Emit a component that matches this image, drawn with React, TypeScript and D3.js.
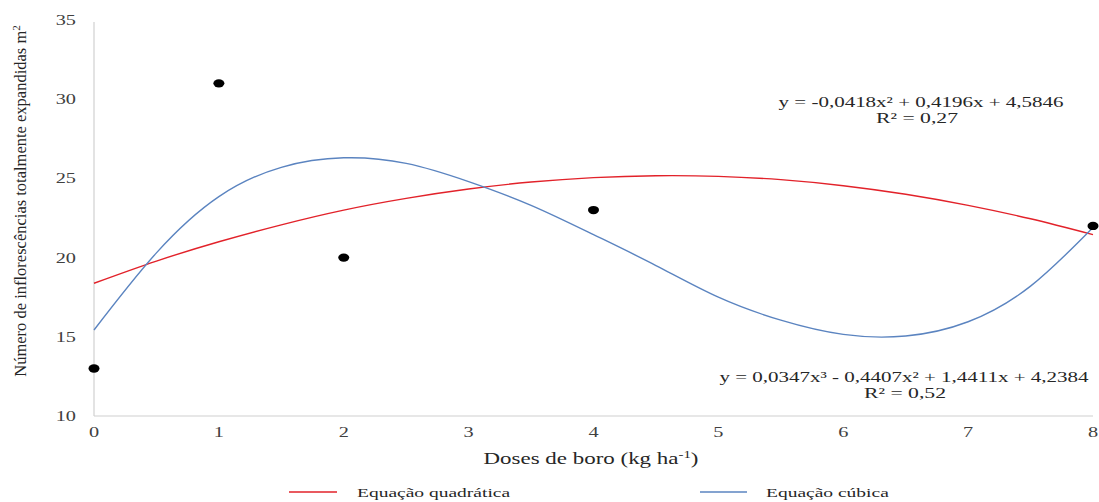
import React from "react";
import * as d3 from "d3";

const doses = [0, 1, 2, 4, 8];
const observed = [13, 31, 20, 23, 22];

const curveX = [0, 0.5, 1, 1.5, 2, 2.5, 3, 3.5, 4, 4.5, 5, 5.5, 6, 6.5, 7, 7.5, 8];
const quadratic = [18.38, 19.78, 21.0, 22.07, 23.0, 23.74, 24.33, 24.77, 25.05, 25.17, 25.13, 24.92, 24.54, 24.0, 23.3, 22.45, 21.45];
const cubic = [15.43, 20.3, 23.85, 25.7, 26.3, 25.95, 24.8, 23.3, 21.45, 19.5, 17.5, 16.05, 15.15, 15.05, 15.95, 18.2, 21.9];

const xTicks = [0, 1, 2, 3, 4, 5, 6, 7, 8];
const yTicks = [10, 15, 20, 25, 30, 35];

const FONT = "'Liberation Serif', 'DejaVu Serif', serif";
const RED = "#e2222a";
const BLUE = "#5b84c0";

type STProps = {
  x: number;
  y: number;
  sx: number;
  anchor?: "start" | "middle" | "end";
  size: number;
  fill?: string;
  children: React.ReactNode;
};

function SText({ x, y, sx, anchor = "start", size, fill = "#262626", children }: STProps) {
  return (
    <g transform={`translate(${x},${y}) scale(${sx},1)`}>
      <text x={0} y={0} dy="0.35em" textAnchor={anchor} fontSize={size} fill={fill}>
        {children}
      </text>
    </g>
  );
}

export default function App() {
  const x = d3.scaleLinear().domain([0, 8]).range([94, 1093]);
  const y = d3.scaleLinear().domain([10, 35]).range([416, 20]);

  const line = d3
    .line<[number, number]>()
    .x((d) => x(d[0]))
    .y((d) => y(d[1]))
    .curve(d3.curveNatural);

  const quadPath = line(curveX.map((v, i) => [v, quadratic[i]]) as [number, number][]) || "";
  const cubPath = line(curveX.map((v, i) => [v, cubic[i]]) as [number, number][]) || "";

  return (
    <div style={{ position: "absolute", left: 0, top: 0 }}>
      <svg width={1099} height={502} style={{ display: "block", background: "#fff" }} fontFamily={FONT}>
        {/* axes */}
        <line x1={x(0)} x2={x(0)} y1={y(35) + 2} y2={y(10)} stroke="#d0d0d0" strokeWidth={1.2} />
        <line x1={x(0)} x2={x(8)} y1={y(10)} y2={y(10)} stroke="#d0d0d0" strokeWidth={1.2} />

        {yTicks.map((t) => (
          <SText key={"y" + t} x={76} y={y(t)} sx={1.4} anchor="end" size={14.5} fill="#404040">
            {t}
          </SText>
        ))}
        {xTicks.map((t) => (
          <SText key={"x" + t} x={x(t)} y={432} sx={1.4} anchor="middle" size={14.5} fill="#404040">
            {t}
          </SText>
        ))}

        {/* axis titles */}
        <SText x={591} y={458} sx={1.35} anchor="middle" size={17}>
          Doses de boro (kg ha
          <tspan dy="-6" fontSize={11}>-1</tspan>
          <tspan dy="6">)</tspan>
        </SText>
        <text
          transform="translate(20,201) rotate(-90)"
          textAnchor="middle"
          dy="0.35em"
          fontSize={16.5}
          fill="#262626"
        >
          Número de inflorescências totalmente expandidas m
          <tspan dy="-6" fontSize={11}>2</tspan>
        </text>

        {/* fitted curves */}
        <path d={quadPath} fill="none" stroke={RED} strokeWidth={1.4} />
        <path d={cubPath} fill="none" stroke={BLUE} strokeWidth={1.4} />

        {/* observed points */}
        {doses.map((d, i) => (
          <ellipse key={"p" + i} cx={x(d)} cy={y(observed[i])} rx={5.5} ry={4.2} fill="#000" />
        ))}

        {/* equations */}
        <SText x={921} y={102} sx={1.5} anchor="middle" size={14}>
          y = -0,0418x² + 0,4196x + 4,5846
        </SText>
        <SText x={917} y={118} sx={1.55} anchor="middle" size={14}>
          R² = 0,27
        </SText>
        <SText x={904} y={377} sx={1.5} anchor="middle" size={14}>
          y = 0,0347x³ - 0,4407x² + 1,4411x + 4,2384
        </SText>
        <SText x={905} y={393} sx={1.55} anchor="middle" size={14}>
          R² = 0,52
        </SText>

        {/* legend */}
        <line x1={289} x2={337} y1={492} y2={492} stroke={RED} strokeWidth={1.4} />
        <SText x={357} y={492} sx={1.5} size={13}>
          Equação quadrática
        </SText>
        <line x1={700} x2={747} y1={492} y2={492} stroke={BLUE} strokeWidth={1.4} />
        <SText x={766} y={492} sx={1.5} size={13}>
          Equação cúbica
        </SText>
      </svg>
    </div>
  );
}
